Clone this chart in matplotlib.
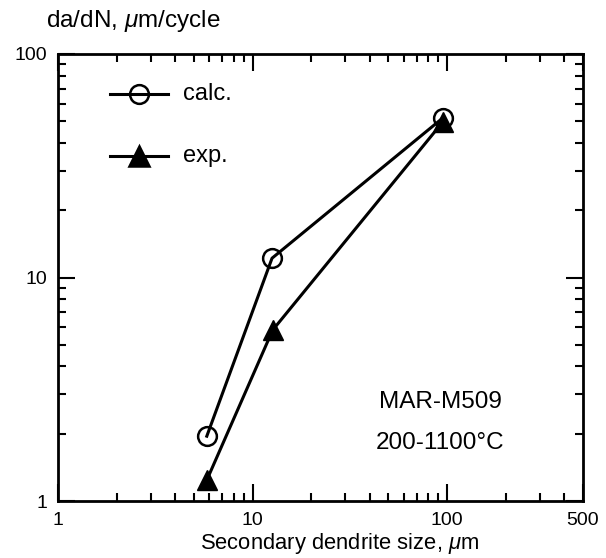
import matplotlib
matplotlib.use("Agg")
import matplotlib.pyplot as plt
from matplotlib.ticker import FixedLocator, LogLocator, NullFormatter, FixedFormatter
from matplotlib.lines import Line2D

plt.rcParams['font.family'] = ['Liberation Sans', 'DejaVu Sans']
plt.rcParams['mathtext.fontset'] = 'custom'
plt.rcParams['mathtext.it'] = 'Liberation Sans:italic'
plt.rcParams['mathtext.rm'] = 'Liberation Sans'

calc_x = [5.82, 12.6, 95.0]
calc_y = [1.95, 12.2, 51.7]
exp_x = [5.82, 12.7, 95.0]
exp_y = [1.24, 5.82, 49.6]

x_ticks = [1, 10, 100, 500]
x_ticklabels = ["1", "10", "100", "500"]
y_ticks = [1, 10, 100]
y_ticklabels = ["1", "10", "100"]

W, H = 606, 558
fig = plt.figure(figsize=(W / 100, H / 100), dpi=100)
L, R, T, B = 58, 583, 54, 501
ax = fig.add_axes([L / W, 1 - B / H, (R - L) / W, (B - T) / H])
ax.set_xscale('log')
ax.set_yscale('log')
ax.set_xlim(1, 500)
ax.set_ylim(1, 100)

ax.plot(calc_x, calc_y, color='black', lw=2.2, marker='o', ms=13.5, mfc='none',
        mec='black', mew=1.8, zorder=3)
ax.plot(exp_x, exp_y, color='black', lw=2.2, marker='^', ms=14.5, mfc='black',
        mec='black', zorder=4)

ax.xaxis.set_major_locator(FixedLocator(x_ticks))
ax.xaxis.set_major_formatter(FixedFormatter(x_ticklabels))
ax.xaxis.set_minor_locator(LogLocator(base=10, subs=range(2, 10)))
ax.xaxis.set_minor_formatter(NullFormatter())
ax.yaxis.set_major_locator(FixedLocator(y_ticks))
ax.yaxis.set_major_formatter(FixedFormatter(y_ticklabels))
ax.yaxis.set_minor_locator(LogLocator(base=10, subs=range(2, 10)))
ax.yaxis.set_minor_formatter(NullFormatter())

ax.tick_params(which='both', direction='in', top=True, right=True, labelsize=14, width=1.5)
ax.tick_params(which='major', length=12, pad=8)
ax.tick_params(which='minor', length=6)
for s in ax.spines.values():
    s.set_linewidth(2)

leg_items = [("calc.", 'o', 'none', 94, 13.5), ("exp.", '^', 'black', 156, 14.5)]
for label, mk, fc, ypix, ms in leg_items:
    yf = 1 - ypix / H
    fig.add_artist(Line2D([110 / W, 168 / W], [yf, yf], color='black', lw=2.2,
                          transform=fig.transFigure))
    fig.add_artist(Line2D([139 / W], [yf], marker=mk, ms=ms,
                          mfc=fc, mec='black', mew=1.8, color='black',
                          transform=fig.transFigure))
    fig.text(183 / W, yf, label, fontsize=17, va='center', ha='left')

fig.text(440 / W, 1 - 402 / H, "MAR-M509", fontsize=17.5, ha='center', va='center')
fig.text(440 / W, 1 - 443 / H, "200-1100°C", fontsize=17.5, ha='center', va='center')

fig.text(46 / W, 1 - 21 / H, r"da/dN, $\mathit{\mu}$m/cycle", fontsize=17.5, ha='left', va='center')
fig.text(340 / W, 1 - 543 / H, r"Secondary dendrite size, $\mathit{\mu}$m", fontsize=15.8,
         ha='center', va='center')

fig.savefig("out.png", dpi=100)
